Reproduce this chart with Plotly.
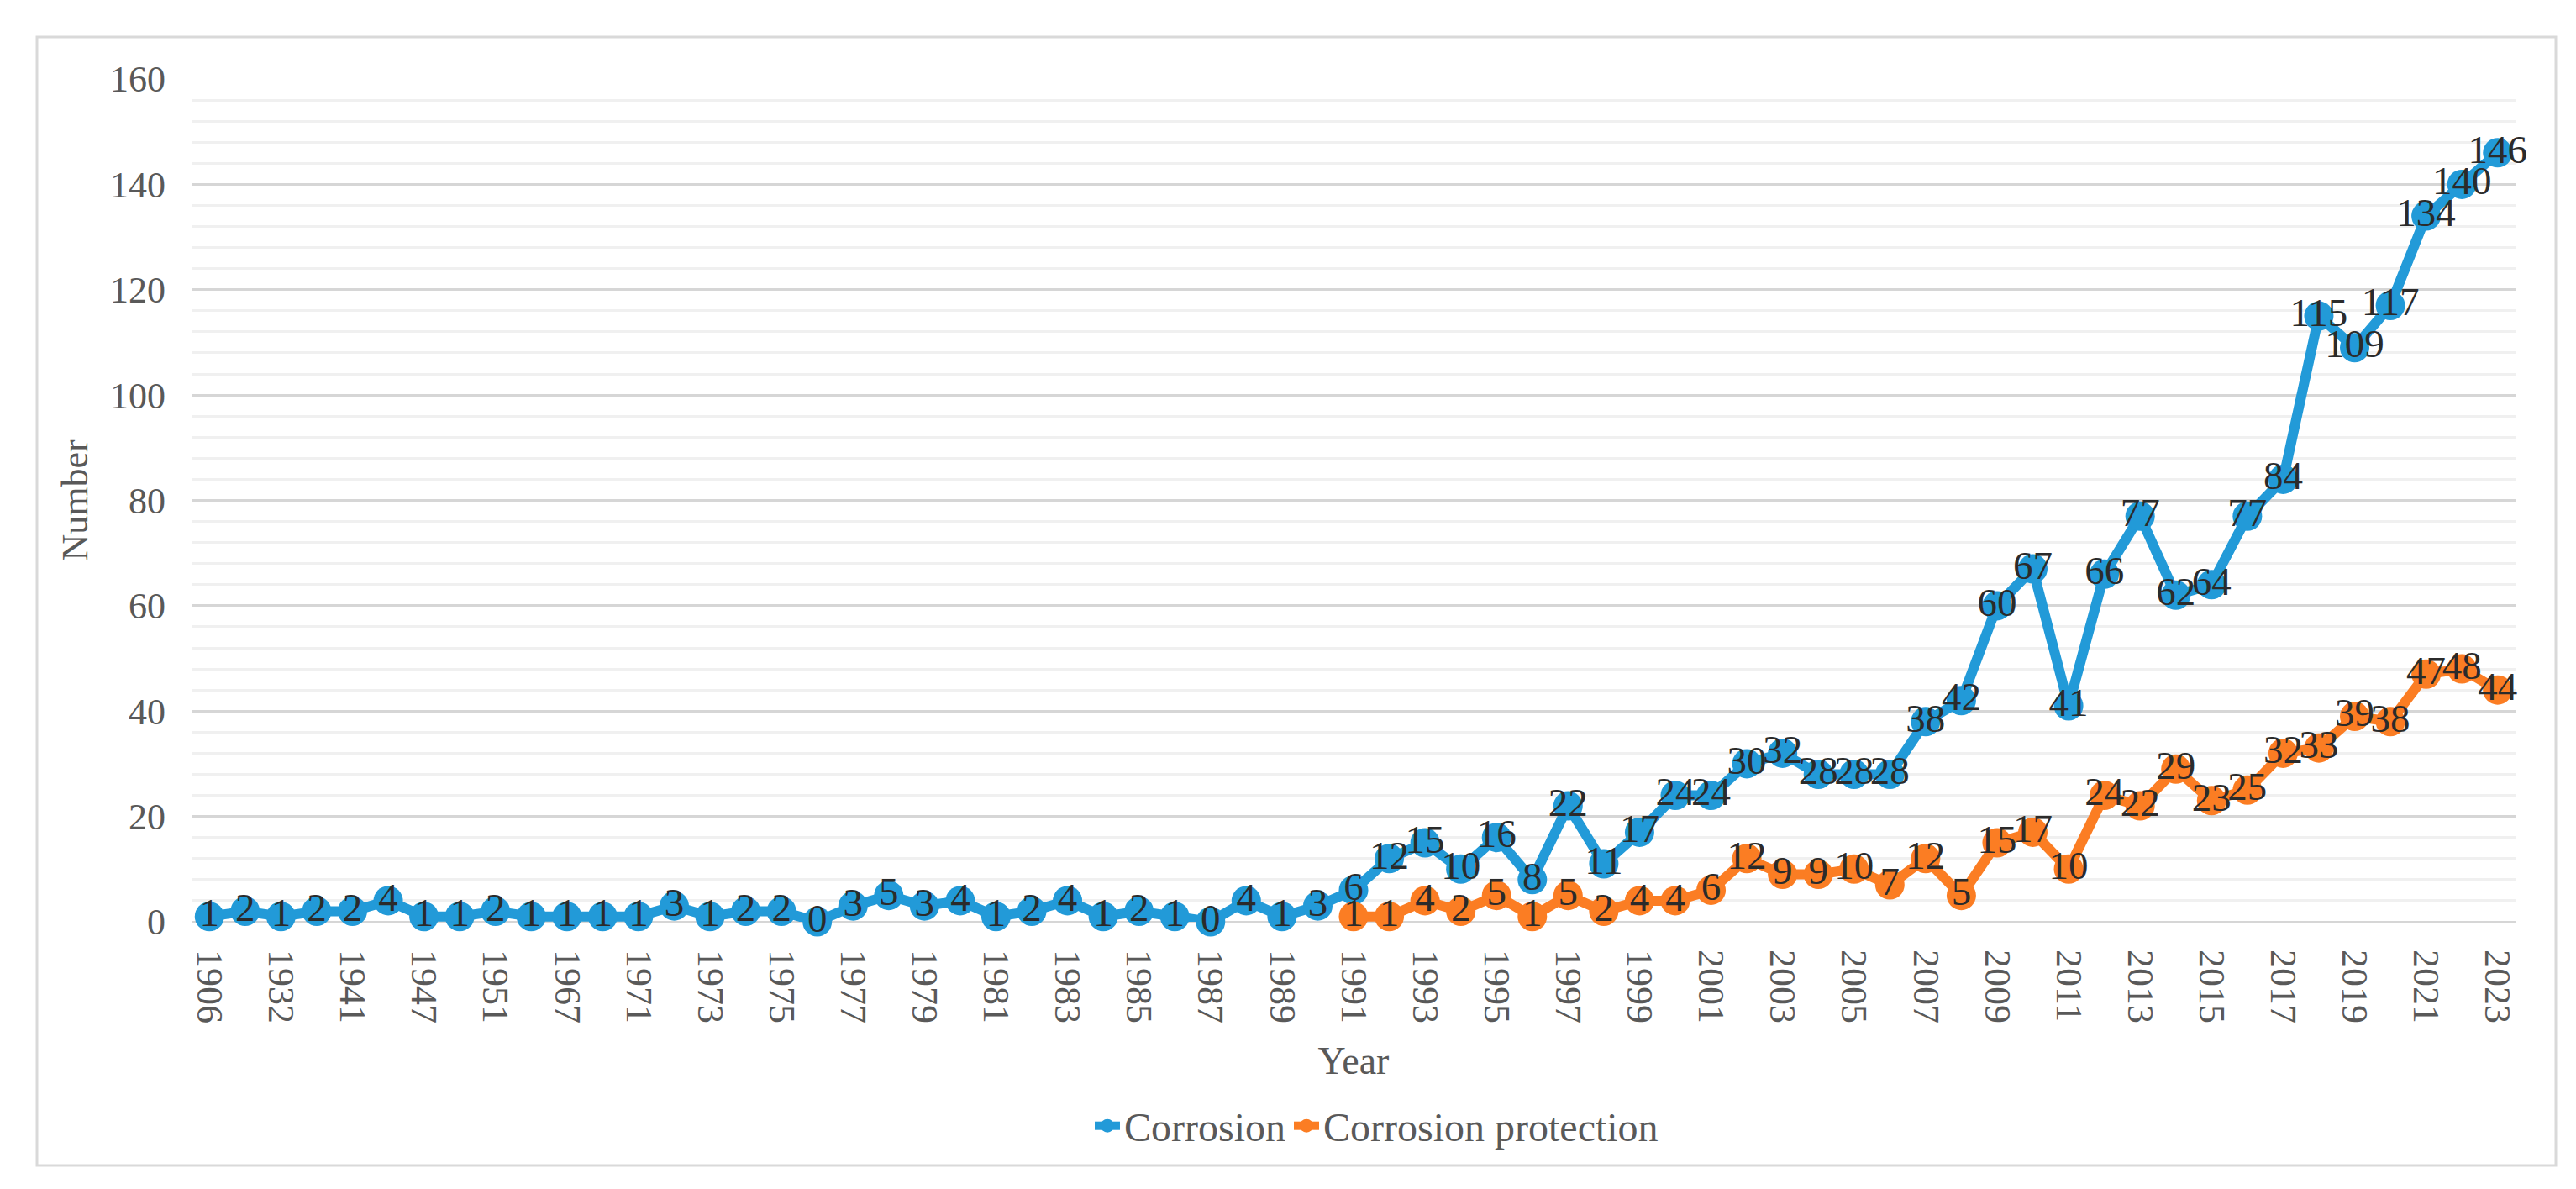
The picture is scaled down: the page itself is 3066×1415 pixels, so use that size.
import plotly.graph_objects as go

years = ["1906", "1928", "1932", "1936", "1941", "1944", "1947", "1949", "1951", "1960",
         "1967", "1969", "1971", "1972", "1973", "1974", "1975", "1976", "1977", "1978",
         "1979", "1980", "1981", "1982", "1983", "1984", "1985", "1986", "1987", "1988",
         "1989", "1990", "1991", "1992", "1993", "1994", "1995", "1996", "1997", "1998",
         "1999", "2000", "2001", "2002", "2003", "2004", "2005", "2006", "2007", "2008",
         "2009", "2010", "2011", "2012", "2013", "2014", "2015", "2016", "2017", "2018",
         "2019", "2020", "2021", "2022", "2023"]

corrosion = [1, 2, 1, 2, 2, 4, 1, 1, 2, 1,
             1, 1, 1, 3, 1, 2, 2, 0, 3, 5,
             3, 4, 1, 2, 4, 1, 2, 1, 0, 4,
             1, 3, 6, 12, 15, 10, 16, 8, 22, 11,
             17, 24, 24, 30, 32, 28, 28, 28, 38, 42,
             60, 67, 41, 66, 77, 62, 64, 77, 84, 115,
             109, 117, 134, 140, 146]

protection_years = ["1991", "1992", "1993", "1994", "1995", "1996", "1997", "1998", "1999", "2000",
                    "2001", "2002", "2003", "2004", "2005", "2006", "2007", "2008", "2009", "2010",
                    "2011", "2012", "2013", "2014", "2015", "2016", "2017", "2018", "2019", "2020",
                    "2021", "2022", "2023"]
protection = [1, 1, 4, 2, 5, 1, 5, 2, 4, 4,
              6, 12, 9, 9, 10, 7, 12, 5, 15, 17,
              10, 24, 22, 29, 23, 25, 32, 33, 39, 38,
              47, 48, 44]

tick_labels = years[::2]
y_ticks = [0, 20, 40, 60, 80, 100, 120, 140, 160]

BLUE = "#229AD8"
ORANGE = "#FB7D23"
FONT = "Liberation Serif"
TXT = "#595959"
LBL = "#2b2b2b"

W, H = 3066, 1415
L, R, T, B = 220, 80, 86, 326
pw, ph = W - L - R, H - T - B


def px_x(p):
    return (p - L) / pw


def px_y(q):
    return (H - B - q) / ph


fig = go.Figure()
fig.add_trace(go.Scatter(
    x=years, y=corrosion, name="Corrosion", mode="lines+markers+text",
    line=dict(color=BLUE, width=12), marker=dict(color=BLUE, size=35),
    text=[str(v) for v in corrosion], textposition="middle center",
    textfont=dict(family=FONT, size=47, color=LBL), cliponaxis=False,
))
fig.add_trace(go.Scatter(
    x=protection_years, y=protection, name="Corrosion protection", mode="lines+markers+text",
    line=dict(color=ORANGE, width=12), marker=dict(color=ORANGE, size=35),
    text=[str(v) for v in protection], textposition="middle center",
    textfont=dict(family=FONT, size=47, color=LBL), cliponaxis=False,
))

fig.update_layout(
    width=W, height=H,
    margin=dict(l=L, r=R, t=T, b=B),
    paper_bgcolor="white", plot_bgcolor="white",
    font=dict(family=FONT, size=44, color=TXT),
    showlegend=True,
    legend=dict(orientation="h", x=px_x(1290), xanchor="left", y=px_y(1332), yanchor="middle",
                font=dict(family=FONT, size=48, color=TXT), itemsizing="trace",
                bgcolor="rgba(0,0,0,0)", tracegroupgap=0),
    xaxis=dict(
        type="category", categoryorder="array", categoryarray=years,
        range=[-0.5, len(years) - 0.5], autorange=False,
        tickmode="array", tickvals=tick_labels, ticktext=tick_labels,
        tickangle=90, showgrid=False, showline=False, zeroline=False,
        ticks="", ticklabelstandoff=32,
        tickfont=dict(family=FONT, size=44, color=TXT),
        title=dict(text="Year", font=dict(family=FONT, size=46, color=TXT), standoff=28),
    ),
    yaxis=dict(
        range=[0, 160], autorange=False, tickmode="array", tickvals=y_ticks,
        showgrid=True, gridcolor="#d6d6d6", gridwidth=3,
        zeroline=True, zerolinecolor="#d6d6d6", zerolinewidth=3,
        minor=dict(dtick=4, tick0=0, showgrid=True, gridcolor="#f0f0f0", gridwidth=3),
        showline=False, ticks="", ticklabelstandoff=30,
        tickfont=dict(family=FONT, size=44, color=TXT),
        title=dict(text="Number", font=dict(family=FONT, size=44, color=TXT), standoff=12),
    ),
    shapes=[dict(type="rect", xref="paper", yref="paper",
                 x0=px_x(36), x1=px_x(3034), y0=px_y(1379), y1=px_y(36),
                 line=dict(color="#d9d9d9", width=3), fillcolor="rgba(0,0,0,0)", layer="below")],
)

fig.write_html("out.html")
